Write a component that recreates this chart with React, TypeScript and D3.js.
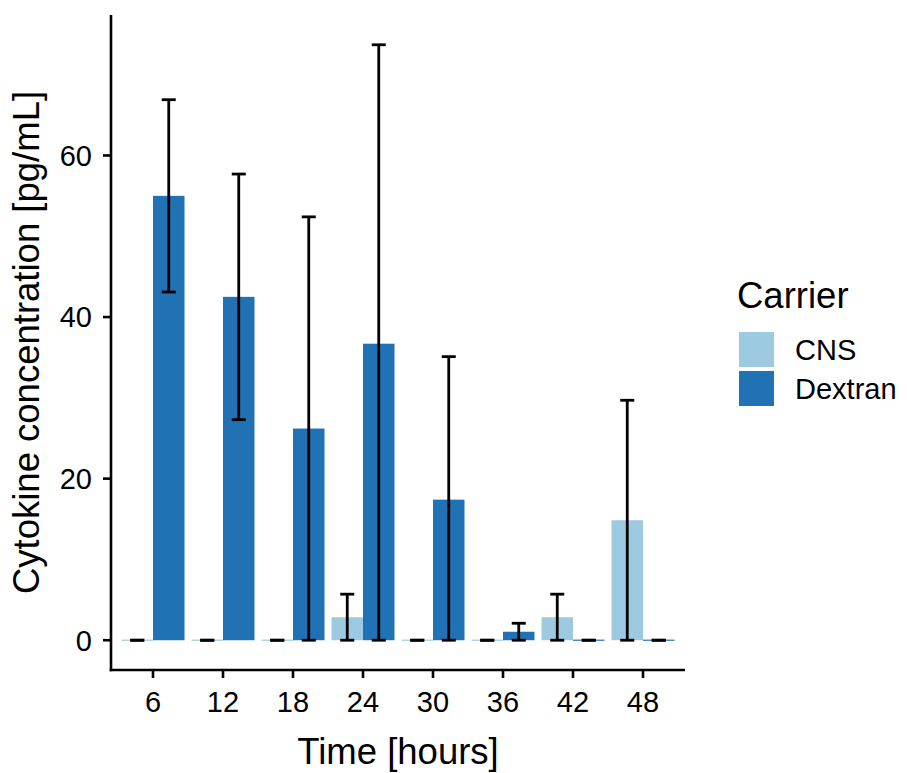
import React from "react";
import * as d3 from "d3";

const times = ["6", "12", "18", "24", "30", "36", "42", "48"];
const carriers = ["CNS", "Dextran"];
const colors = ["#9ECAE1", "#2171B5"];

const cnsMean = [0, 0, 0, 2.85, 0, 0, 2.85, 14.85];
const cnsLow = [0, 0, 0, 0, 0, 0, 0, 0];
const cnsHigh = [0, 0, 0, 5.7, 0, 0, 5.7, 29.7];

const dexMean = [55, 42.5, 26.2, 36.7, 17.4, 1.05, 0, 0];
const dexLow = [43.1, 27.3, 0, 0, 0, 0, 0, 0];
const dexHigh = [66.9, 57.7, 52.4, 73.7, 35.1, 2.1, 0, 0];

const yTicks = [0, 20, 40, 60];

export default function App() {
  const W = 907, H = 773;
  const left = 111, right = 685, top = 15, bottom = 670;
  const x = d3.scaleLinear().domain([0.4, 8.6]).range([left, right]);
  const y = d3.scaleLinear().domain([-3.685, 77.385]).range([bottom, top]);
  const unit = x(2) - x(1);
  const bw = unit * 0.45;
  const capW = unit * 0.2;
  const font = "'Liberation Sans', Arial, Helvetica, sans-serif";
  const tickFs = 29;
  const titleFs = 36.5;

  const series = [
    { mean: cnsMean, low: cnsLow, high: cnsHigh, off: -0.5 },
    { mean: dexMean, low: dexLow, high: dexHigh, off: 0.5 },
  ];

  return (
    <svg width={W} height={H} style={{ position: "absolute", left: 0, top: 0, fontFamily: font }}>
      <rect width={W} height={H} fill="white" />
      {series.map((s, si) =>
        times.map((t, i) => {
          const cx = x(i + 1) + s.off * bw;
          const y0 = y(0);
          const yv = y(s.mean[i]);
          return s.mean[i] > 0 ? (
            <rect key={`b${si}-${i}`} x={cx - bw / 2} y={yv} width={bw} height={y0 - yv} fill={colors[si]} />
          ) : (
            <line key={`b${si}-${i}`} x1={cx - bw / 2} x2={cx + bw / 2} y1={y0} y2={y0} stroke={colors[si]} strokeWidth={1.2} />
          );
        })
      )}
      {series.map((s, si) =>
        times.map((t, i) => {
          const cx = x(i + 1) + s.off * bw;
          const yl = y(s.low[i]);
          const yh = y(s.high[i]);
          return (
            <g key={`e${si}-${i}`} stroke="black" strokeWidth={2.8}>
              {yh !== yl && <line x1={cx} x2={cx} y1={yl} y2={yh} />}
              <line x1={cx - capW / 2} x2={cx + capW / 2} y1={yl} y2={yl} />
              <line x1={cx - capW / 2} x2={cx + capW / 2} y1={yh} y2={yh} />
            </g>
          );
        })
      )}
      {/* axes */}
      <line x1={left} x2={left} y1={top} y2={bottom + 1.3} stroke="black" strokeWidth={2.6} />
      <line x1={left - 1.3} x2={right} y1={bottom} y2={bottom} stroke="black" strokeWidth={2.6} />
      {yTicks.map((v) => (
        <g key={`yt${v}`}>
          <line x1={left - 8} x2={left} y1={y(v)} y2={y(v)} stroke="black" strokeWidth={2.6} />
          <text x={left - 19} y={y(v)} dy="0.36em" textAnchor="end" fontSize={tickFs} fill="black">
            {v}
          </text>
        </g>
      ))}
      {times.map((t, i) => (
        <g key={`xt${t}`}>
          <line x1={x(i + 1)} x2={x(i + 1)} y1={bottom} y2={bottom + 8} stroke="black" strokeWidth={2.6} />
          <text x={x(i + 1)} y={bottom + 42} textAnchor="middle" fontSize={tickFs} fill="black">
            {t}
          </text>
        </g>
      ))}
      <text x={(left + right) / 2} y={764} textAnchor="middle" fontSize={titleFs} fill="black">
        Time [hours]
      </text>
      <text
        transform={`translate(39, ${(top + bottom) / 2}) rotate(-90)`}
        textAnchor="middle"
        fontSize={titleFs}
        fill="black"
      >
        Cytokine concentration [pg/mL]
      </text>
      {/* legend */}
      <text x={737} y={308} fontSize={titleFs} fill="black">
        Carrier
      </text>
      {carriers.map((c, i) => (
        <g key={`lg${c}`}>
          <rect x={739} y={332 + i * 39} width={35} height={35} fill={colors[i]} />
          <text x={795} y={332 + i * 39 + 17.5} dy="0.36em" fontSize={tickFs} fill="black">
            {c}
          </text>
        </g>
      ))}
    </svg>
  );
}
